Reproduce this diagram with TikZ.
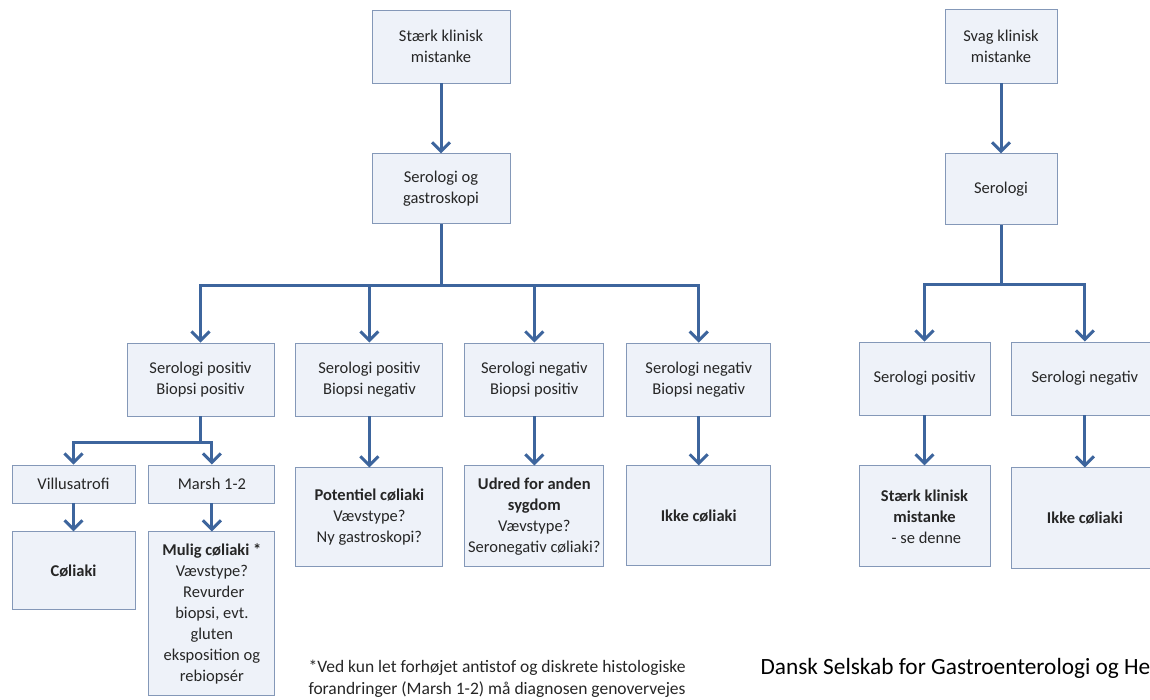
\documentclass[tikz,border=0pt]{standalone}
\usepackage{fontspec}
\setmainfont{Carlito}
\usetikzlibrary{positioning,arrows.meta}

\definecolor{boxfill}{HTML}{EEF2F9}
\definecolor{boxline}{HTML}{8498B8}
\definecolor{arrowblue}{HTML}{3D659D}
\definecolor{textgray}{HTML}{262626}

\begin{document}
\begin{tikzpicture}[x=1pt, y=-1pt,
		box/.style={draw=boxline, fill=boxfill, line width=0.9pt, text=textgray, align=center, inner sep=2pt, font=\fontsize{16.5}{21}\selectfont},
		arr/.style={draw=arrowblue, line width=3pt, -{Straight Barb[length=9pt,width=18pt]}},
		]
		\path[use as bounding box] (0,0) rectangle (1150,699);
		\clip (0,0) rectangle (1150,699);
		
		%Nodes
		\node[box, minimum width=138pt, minimum height=73pt] (sk) at (441,46.5) {Stærk klinisk\\mistanke};
		\node[box, minimum width=138pt, minimum height=70pt, below=70pt of sk] (sg) {Serologi og\\gastroskopi};
		\node[box, minimum width=147pt, minimum height=73pt] (spbp) at (200.5,379.5) {Serologi positiv\\Biopsi positiv};
		\node[box, minimum width=147pt, minimum height=73pt, right=21pt of spbp] (spbn) {Serologi positiv\\Biopsi negativ};
		\node[box, minimum width=139pt, minimum height=73pt, right=21pt of spbn] (snbp) {Serologi negativ\\Biopsi positiv};
		\node[box, minimum width=144pt, minimum height=73pt, right=22pt of snbp] (snbn) {Serologi negativ\\Biopsi negativ};
		\node[box, minimum width=123pt, minimum height=38pt] (villus) at (73.5,484) {Villusatrofi};
		\node[box, minimum width=126pt, minimum height=38pt, right=13pt of villus] (marsh) {Marsh 1-2};
		\node[box, minimum width=123pt, minimum height=78pt, below=28pt of villus] (coeliaki) {\textbf{Cøliaki}};
		\node[box, minimum width=126pt, minimum height=164pt, below=28pt of marsh] (mulig) {\textbf{Mulig cøliaki *}\\Vævstype?\\\ Revurder\\biopsi, evt.\\gluten\\eksposition og\\rebiopsér};
		\node[box, minimum width=147pt, minimum height=99pt, below=51pt of spbn] (potentiel) {\textbf{Potentiel cøliaki}\\Vævstype?\\Ny gastroskopi?};
		\node[box, minimum width=139pt, minimum height=101pt, below=49pt of snbp] (udred) {\textbf{Udred for anden}\\\textbf{sygdom}\\Vævstype?\\Seronegativ cøliaki?};
		\node[box, minimum width=144pt, minimum height=100pt, below=49pt of snbn] (ikke) {\textbf{Ikke cøliaki}};
		
		\node[box, minimum width=112pt, minimum height=74pt] (svag) at (1001,46) {Svag klinisk\\mistanke};
		\node[box, minimum width=112pt, minimum height=71pt, below=70pt of svag] (serologi) {Serologi};
		\node[box, minimum width=131pt, minimum height=73pt] (sp) at (924.5,378.5) {Serologi positiv};
		\node[box, minimum width=146pt, minimum height=73pt, right=21pt of sp] (sn) {Serologi negativ};
		\node[box, minimum width=131pt, minimum height=101pt, below=50pt of sp] (staerk) {\textbf{Stærk klinisk}\\\textbf{mistanke}\\\ - se denne};
		\node[box, minimum width=146pt, minimum height=101pt, below=52pt of sn] (ikke2) {\textbf{Ikke cøliaki}};
		
		%Texts
		\node[anchor=west, align=left, text=textgray, font=\fontsize{17.5}{22}\selectfont] (note) at (305,679) {*Ved kun let forhøjet antistof og diskrete histologiske\\forandringer (Marsh 1-2) må diagnosen genovervejes};
		\node[anchor=west, text=black, font=\fontsize{23.3}{26}\selectfont] (dsgh) at (757,668) {Dansk Selskab for Gastroenterologi og He};
		
		%Lines
		\draw[arr] (sk) -- (sg);
		\draw[arr] (sg.south) -- ++(0,61) -| (spbp.north);
		\draw[arr] (sg.south) -- ++(0,61) -| (spbn.north);
		\draw[arr] (sg.south) -- ++(0,61) -| (snbp.north);
		\draw[arr] (sg.south) -- ++(0,61) -| (snbn.north);
		\draw[arr] (spbp.south) -- ++(0,26) -| (villus.north);
		\draw[arr] (spbp.south) -- ++(0,26) -| (marsh.north);
		\draw[arr] (villus) -- (coeliaki);
		\draw[arr] (marsh) -- (mulig);
		\draw[arr] (spbn.south) -- (potentiel.north -| spbn.south);
		\draw[arr] (snbp) -- (udred);
		\draw[arr] (snbn) -- (ikke);
		
		\draw[arr] (svag) -- (serologi);
		\draw[arr] (serologi.south) -- ++(0,59) -| (sp.north);
		\draw[arr] (serologi.south) -- ++(0,59) -| (sn.north);
		\draw[arr] (sp) -- (staerk);
		\draw[arr] (sn) -- (ikke2);
\end{tikzpicture}
\end{document}
